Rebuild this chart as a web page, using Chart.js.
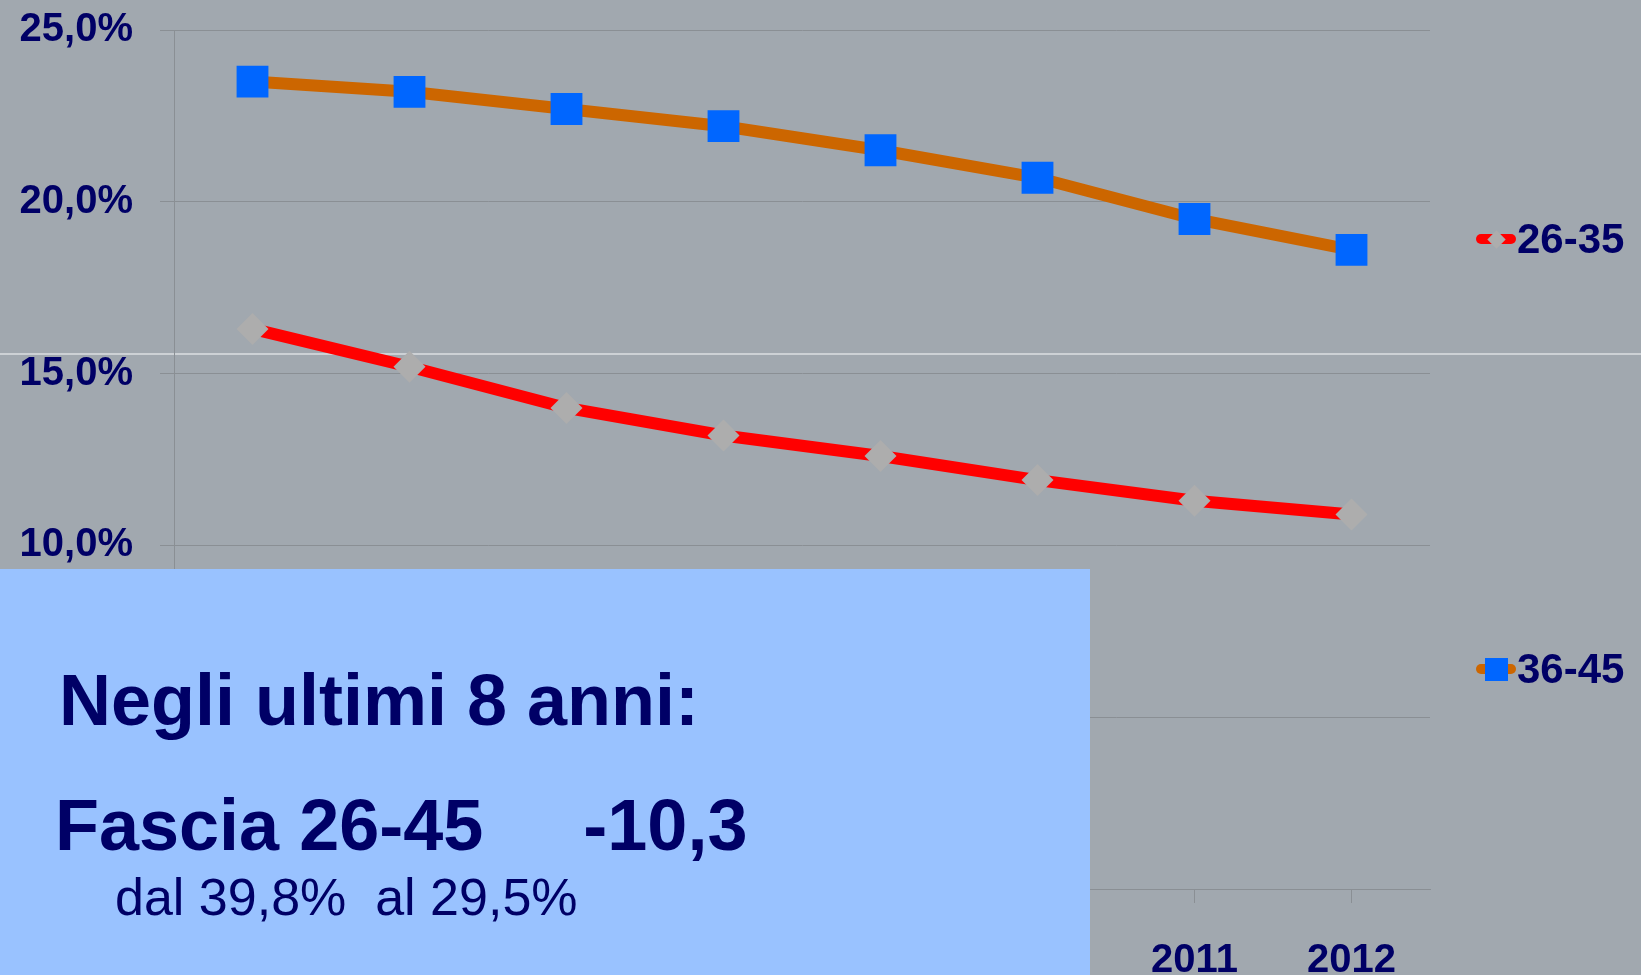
<!DOCTYPE html>
<html>
<head>
<meta charset="utf-8">
<script src="https://cdn.jsdelivr.net/npm/chart.js@4.4.1/dist/chart.umd.min.js"></script>
<style>
  html, body { margin: 0; padding: 0; }
  body {
    width: 1641px;
    height: 975px;
    overflow: hidden;
    position: relative;
    background: #a1a8af;
    font-family: "Liberation Sans", Arial, sans-serif;
    color: #000066;
  }
  #slideLine {
    position: absolute;
    left: 0; top: 353px;
    width: 1641px; height: 2px;
    background: #cdd1d5;
  }
  #chartCanvas { position: absolute; left: 0; top: 0; }
  #legend { position: absolute; left: 0; top: 0; }
  .legend-item {
    position: absolute;
    left: 1476px;
    height: 40px;
    display: flex;
    align-items: center;
    font-weight: bold;
    font-size: 42px;
    white-space: nowrap;
  }
  .legend-mark { position: relative; width: 40px; height: 30px; margin-right: 1px; flex: none; }
  .legend-mark .ln {
    position: absolute; left: 0; top: 10px;
    width: 40px; height: 10px; border-radius: 5px;
  }
  .legend-mark .pt { position: absolute; }
  #note {
    position: absolute;
    left: 0; top: 569px;
    width: 1090px; height: 406px;
    background: #99c2ff;
  }
  #note div { position: absolute; white-space: pre; line-height: 1; }
  #note .big { font-weight: bold; font-size: 72px; }
  #note .small { font-size: 52px; }
</style>
</head>
<body>
<div id="slideLine"></div>
<canvas id="chartCanvas" width="1641" height="975"></canvas>
<div id="legend"></div>
<div id="note">
  <div class="big" style="left: 59px; top: 95px;">Negli ultimi 8 anni:</div>
  <div class="big" style="left: 55px; top: 220px;">Fascia 26-45     -10,3</div>
  <div class="small" style="left: 115px; top: 302px;">dal 39,8%  al 29,5%</div>
</div>
<script>
// DATI
const years = ["2005", "2006", "2007", "2008", "2009", "2010", "2011", "2012"];
const fascia2635 = [16.3, 15.2, 14.0, 13.2, 12.6, 11.9, 11.3, 10.9];
const fascia3645 = [23.5, 23.2, 22.7, 22.2, 21.5, 20.7, 19.5, 18.6];
const yTicks = [0, 5, 10, 15, 20, 25];

const textColor = "#000066";
const gridColor = "#8a8f94";
const labelFont = { family: "'Liberation Sans', Arial, sans-serif", size: 40, weight: "bold" };

const ctx = document.getElementById("chartCanvas").getContext("2d");
const chart = new Chart(ctx, {
  type: "line",
  data: {
    labels: years,
    datasets: [
      {
        label: "26-35",
        data: fascia2635,
        borderColor: "#ff0000",
        borderWidth: 12,
        tension: 0,
        pointStyle: "rectRot",
        pointRadius: 16,
        pointBackgroundColor: "#adadad",
        pointBorderWidth: 0,
        legendPoint: { w: 13, h: 13, rotate: true },
      },
      {
        label: "36-45",
        data: fascia3645,
        borderColor: "#cc6600",
        borderWidth: 12,
        tension: 0,
        pointStyle: "rect",
        pointRadius: 22.5,
        pointBackgroundColor: "#0066ff",
        pointBorderWidth: 0,
        legendPoint: { w: 23, h: 23, rotate: false },
      },
    ],
  },
  options: {
    responsive: false,
    animation: false,
    layout: {
      autoPadding: false,
      padding: { top: 30, right: 211, bottom: 0, left: 0 },
    },
    plugins: {
      legend: { display: false },
      tooltip: { enabled: false },
    },
    scales: {
      x: {
        offset: true,
        grid: {
          drawOnChartArea: false,
          drawTicks: true,
          tickLength: 14,
          color: gridColor,
        },
        border: { color: gridColor },
        ticks: { color: textColor, font: labelFont, padding: 34 },
        afterFit: (scale) => { scale.height = 86; },
      },
      y: {
        min: 0,
        max: 25,
        afterBuildTicks: (scale) => { scale.ticks = yTicks.map((v) => ({ value: v })); },
        grid: { color: gridColor, tickLength: 14 },
        border: { color: gridColor },
        ticks: {
          color: textColor,
          font: labelFont,
          padding: 27,
          callback: (v) => v.toFixed(1).replace(".", ",") + "%",
        },
        afterFit: (scale) => {
          scale.width = 174;
          scale.paddingTop = 0;
          scale.paddingBottom = 0;
        },
      },
    },
  },
});

// legenda (HTML) dalle serie del grafico
const legendTops = [219, 649];
const legendEl = document.getElementById("legend");
chart.data.datasets.forEach((ds, idx) => {
  const item = document.createElement("div");
  item.className = "legend-item";
  item.style.top = legendTops[idx] + "px";
  const mark = document.createElement("div");
  mark.className = "legend-mark";
  const ln = document.createElement("div");
  ln.className = "ln";
  ln.style.background = ds.borderColor;
  const pt = document.createElement("div");
  pt.className = "pt";
  const p = ds.legendPoint;
  pt.style.width = p.w + "px";
  pt.style.height = p.h + "px";
  pt.style.left = (20 - p.w / 2) + "px";
  pt.style.top = (15 - p.h / 2) + "px";
  pt.style.background = ds.pointBackgroundColor;
  if (p.rotate) pt.style.transform = "rotate(45deg)";
  mark.appendChild(ln);
  mark.appendChild(pt);
  const txt = document.createElement("span");
  txt.textContent = ds.label;
  item.appendChild(mark);
  item.appendChild(txt);
  legendEl.appendChild(item);
});
</script>
</body>
</html>
